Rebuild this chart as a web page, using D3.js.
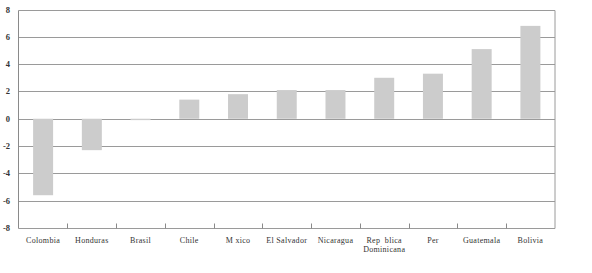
<!DOCTYPE html>
<html>
<head>
<meta charset="utf-8">
<script src="https://cdn.jsdelivr.net/npm/d3@7"></script>
<style>
	body { margin: 0; background: #fff; }
	text { font-family: "Liberation Serif", "DejaVu Serif", serif; fill: #333; }
</style>
</head>
<body>
<div id="chart"></div>
<script>
var countries = ["Colombia", "Honduras", "Brasil", "Chile", "M xico", "El Salvador", "Nicaragua", "Rep  blica|Dominicana", "Per", "Guatemala", "Bolivia"];
var values = [-5.6, -2.3, -0.1, 1.4, 1.8, 2.1, 2.1, 3.0, 3.3, 5.1, 6.8];
var yTicks = [-8, -6, -4, -2, 0, 2, 4, 6, 8];

var width = 592, height = 273;
var margin = {top: 9.5, right: 37, bottom: 45, left: 18.5};

var svg = d3.select("#chart").append("svg")
	.attr("width", width)
	.attr("height", height);

var x = d3.scaleBand()
	.domain(countries)
	.range([margin.left, width - margin.right])
	.paddingInner(0.59)
	.paddingOuter(0.3);

var y = d3.scaleLinear()
	.domain([-8, 8])
	.range([height - margin.bottom, margin.top]);

// gridlines
svg.append("g").selectAll("line")
	.data(yTicks)
	.enter().append("line")
	.attr("x1", margin.left)
	.attr("x2", width - margin.right)
	.attr("y1", function(d) { return Math.round(y(d)) + 0.5; })
	.attr("y2", function(d) { return Math.round(y(d)) + 0.5; })
	.attr("stroke", "#9a9a9a")
	.attr("stroke-width", 1);

// bars
svg.append("g").selectAll("rect")
	.data(values)
	.enter().append("rect")
	.attr("x", function(d, i) { return x(countries[i]); })
	.attr("width", x.bandwidth())
	.attr("y", function(d) { return y(Math.max(0, d)); })
	.attr("height", function(d) { return Math.abs(y(d) - y(0)); })
	.attr("fill", "#cccccc");

// frame: left, right, bottom
var x0 = margin.left, x1 = width - margin.right;
var yb = Math.round(y(-8)) + 0.5, yt = Math.round(y(8)) + 0.5;
svg.append("line").attr("x1", x0).attr("x2", x0).attr("y1", yt).attr("y2", yb)
	.attr("stroke", "#8a8a8a");
svg.append("line").attr("x1", x1).attr("x2", x1).attr("y1", yt).attr("y2", yb)
	.attr("stroke", "#9a9a9a");

// category separators on bottom axis
var step = x.step();
var bounds = countries.slice(1).map(function(c) { return x(c) - (step - x.bandwidth()) / 2; });
svg.append("g").selectAll("line")
	.data(bounds)
	.enter().append("line")
	.attr("x1", function(d) { return Math.round(d) + 0.5; })
	.attr("x2", function(d) { return Math.round(d) + 0.5; })
	.attr("y1", yb - 5)
	.attr("y2", yb)
	.attr("stroke", "#8a8a8a");

// y labels
svg.append("g").selectAll("text")
	.data(yTicks)
	.enter().append("text")
	.attr("x", 10)
	.attr("y", function(d) { return y(d) + 3; })
	.attr("text-anchor", "end")
	.style("font-size", "8.5px")
	.style("font-weight", "bold")
	.text(function(d) { return d; });

// category labels
var labels = svg.append("g").selectAll("text")
	.data(countries)
	.enter().append("text")
	.attr("x", function(d) { return x(d) + x.bandwidth() / 2; })
	.attr("y", yb + 14)
	.attr("text-anchor", "middle")
	.style("font-size", "8px")
	.style("letter-spacing", "0.3px");

labels.each(function(d) {
	var parts = d.split("|");
	var t = d3.select(this);
	parts.forEach(function(p, i) {
		t.append("tspan")
			.attr("x", t.attr("x"))
			.attr("dy", i == 0 ? 0 : 9)
			.style("white-space", "pre")
			.text(p);
	});
});
</script>
</body>
</html>
